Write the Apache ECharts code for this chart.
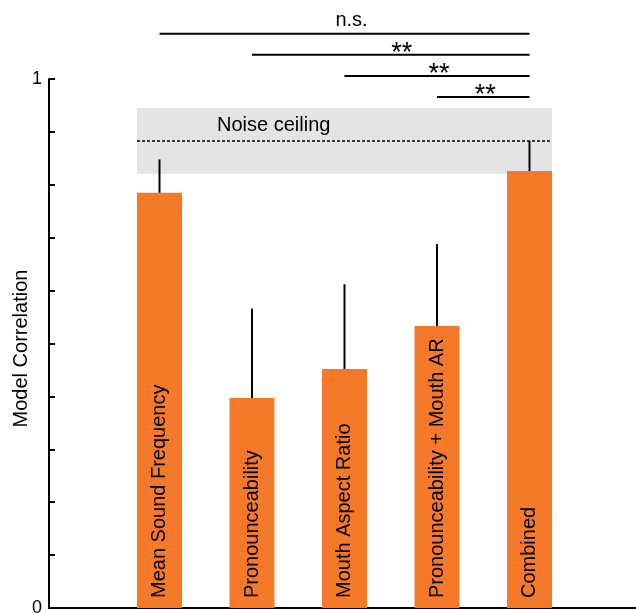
<!DOCTYPE html>
<html>
<head>
<meta charset="utf-8">
<script src="https://cdn.jsdelivr.net/npm/echarts@6/dist/echarts.min.js"></script>
<style>
html,body{margin:0;padding:0;background:#fff;}
#chart{width:636px;height:613px;}
</style>
</head>
<body>
<div id="chart"></div>
<script>
// ---- data ----
const categories = ['Mean Sound Frequency', 'Pronounceability', 'Mouth Aspect Ratio', 'Pronounceability + Mouth AR', 'Combined'];
const correlations = [0.785, 0.397, 0.452, 0.533, 0.826];
const errorUpper = [0.848, 0.566, 0.612, 0.688, 0.883];
const noiseCeilingLower = 0.821;
const noiseCeilingUpper = 0.945;
const noiseCeilingMean = 0.883;
const sigFrom = [0, 1, 2, 3];
const sigTo = [4, 4, 4, 4];
const sigLevels = [1.0856, 1.046, 1.0057, 0.966];
const sigLabels = ['n.s.', '**', '**', '**'];
const yTickLabels = ['0', '1'];

// ---- layout / style ----
const FONT = '"Liberation Sans", Arial, Helvetica, sans-serif';
const ORANGE = '#f47a2a';
const BAR_W = 45;
const sigTextDx = [7, 11, 2, 2];

const chart = echarts.init(document.getElementById('chart'), null, {renderer: 'canvas'});

const barData = categories.map((c, i) => ({name: c, value: [i + 1, correlations[i]]}));
const errData = categories.map((c, i) => [i + 1, correlations[i], errorUpper[i]]);
const sigData = sigFrom.map((f, i) => [f + 1, sigTo[i] + 1, sigLevels[i], i]);

const option = {
  animation: false,
  backgroundColor: '#fff',
  grid: {left: 49, right: 0, top: 79, bottom: 5, containLabel: false, outerBoundsMode: 'none'},
  xAxis: {
    type: 'value', min: -0.1946, max: 6.1514,
    axisLine: {show: true, onZero: false, lineStyle: {color: '#000', width: 2}},
    axisTick: {show: false}, axisLabel: {show: false}, splitLine: {show: false}
  },
  yAxis: {
    type: 'value', min: 0, max: 1, interval: 0.1,
    name: 'Model Correlation', nameLocation: 'middle', nameGap: 18, nameMoveOverlap: false,
    nameTextStyle: {fontFamily: FONT, fontSize: 20, color: '#000', padding: [0, 10, 0, 0]},
    axisLine: {show: true, onZero: false, lineStyle: {color: '#000', width: 2}},
    axisTick: {show: true, inside: true, length: 6, lineStyle: {color: '#000', width: 2}},
    axisLabel: {
      margin: 7, fontFamily: FONT, fontSize: 18, color: '#000',
      formatter: v => (Math.abs(v) < 1e-9 ? yTickLabels[0] : (Math.abs(v - 1) < 1e-9 ? yTickLabels[1] : ''))
    },
    splitLine: {show: false}
  },
  series: [
    {
      type: 'custom', z: 1, clip: false,
      data: [[1, 5, noiseCeilingLower, noiseCeilingUpper, noiseCeilingMean]],
      renderItem: (params, api) => {
        const l = api.coord([api.value(0), 0])[0] - BAR_W / 2;
        const r = api.coord([api.value(1), 0])[0] + BAR_W / 2;
        const yl = api.coord([0, api.value(2)])[1];
        const yu = api.coord([0, api.value(3)])[1];
        const ym = api.coord([0, api.value(4)])[1];
        return {type: 'group', children: [
          {type: 'rect', shape: {x: l, y: yu, width: r - l, height: yl - yu}, style: {fill: '#e4e4e4'}},
          {type: 'line', shape: {x1: l, y1: ym, x2: r, y2: ym}, style: {stroke: '#000', lineWidth: 1.5, lineDash: [3, 2]}},
          {type: 'text', x: l + 80, y: yu + 17.5, style: {text: 'Noise ceiling', font: '20px ' + FONT, fill: '#000', align: 'left', verticalAlign: 'middle'}}
        ]};
      }
    },
    {
      type: 'bar', z: 2, barWidth: BAR_W,
      itemStyle: {color: ORANGE},
      data: barData,
      label: {
        show: true, position: 'insideBottom', distance: 10, rotate: 90,
        align: 'left', verticalAlign: 'middle', formatter: '{b}',
        fontFamily: FONT, fontSize: 20, color: '#000'
      }
    },
    {
      type: 'custom', z: 3, clip: false,
      data: errData,
      renderItem: (params, api) => {
        const p0 = api.coord([api.value(0), api.value(1)]);
        const p1 = api.coord([api.value(0), api.value(2)]);
        return {type: 'line', shape: {x1: p0[0], y1: p0[1], x2: p1[0], y2: p1[1]}, style: {stroke: '#000', lineWidth: 2}};
      }
    },
    {
      type: 'custom', z: 3, clip: false,
      data: sigData,
      renderItem: (params, api) => {
        const i = api.value(3);
        const a = api.coord([api.value(0), api.value(2)]);
        const b = api.coord([api.value(1), api.value(2)]);
        const lab = sigLabels[i];
        const isNs = lab === 'n.s.';
        const dy = isNs ? -13 : -1;
        return {type: 'group', children: [
          {type: 'line', shape: {x1: a[0], y1: a[1], x2: b[0], y2: b[1]}, style: {stroke: '#000', lineWidth: 2}},
          {type: 'text', x: (a[0] + b[0]) / 2 + sigTextDx[i], y: a[1] + dy, style: {text: lab, font: (isNs ? '20px ' : '27px ') + FONT, fill: '#000', align: 'center', verticalAlign: 'middle'}}
        ]};
      }
    }
  ]
};
chart.setOption(option);
</script>
</body>
</html>
